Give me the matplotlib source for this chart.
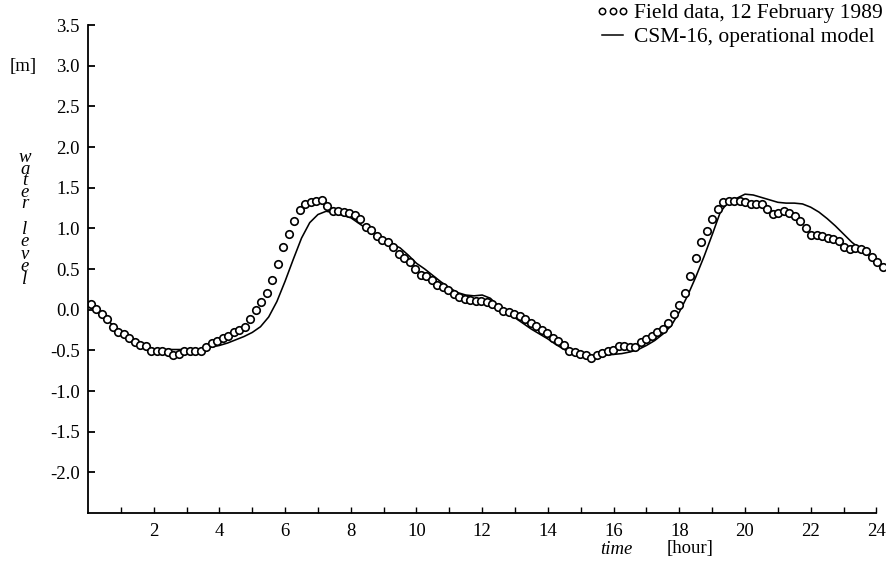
import numpy as np
import matplotlib
matplotlib.use("Agg")
import matplotlib.pyplot as plt
from matplotlib.lines import Line2D

plt.rcParams['font.family'] = ['Liberation Serif', 'DejaVu Serif']
plt.rcParams['axes.unicode_minus'] = False

# ---- data ----
field_values = [
    0.07, 0.01, -0.05, -0.12, -0.21, -0.27, -0.30, -0.35, -0.40, -0.43,
    -0.45, -0.51, -0.51, -0.51, -0.52, -0.56, -0.54, -0.51, -0.51, -0.51,
    -0.51, -0.46, -0.41, -0.38, -0.35, -0.32, -0.28, -0.25, -0.21, -0.12,
    0.00, 0.10, 0.21, 0.36, 0.56, 0.77, 0.93, 1.09, 1.22, 1.30,
    1.32, 1.33, 1.35, 1.27, 1.21, 1.21, 1.20, 1.19, 1.16, 1.11,
    1.02, 0.98, 0.91, 0.86, 0.83, 0.77, 0.69, 0.64, 0.58, 0.50,
    0.43, 0.41, 0.37, 0.30, 0.28, 0.24, 0.19, 0.15, 0.13, 0.12,
    0.11, 0.11,
    0.10, 0.07, 0.03, -0.02, -0.03, -0.05, -0.08, -0.11, -0.16, -0.20,
    -0.25, -0.29, -0.35, -0.39, -0.44, -0.51, -0.52, -0.54, -0.56, -0.59,
    -0.56, -0.53, -0.51, -0.49, -0.45, -0.45, -0.46, -0.46, -0.40, -0.36,
    -0.32, -0.28, -0.24, -0.16, -0.05, 0.06, 0.20, 0.41, 0.64, 0.83,
    0.97, 1.11, 1.24, 1.32, 1.33, 1.34, 1.34, 1.32, 1.30, 1.30,
    1.30, 1.24, 1.18, 1.19, 1.21, 1.19, 1.15, 1.09, 1.00, 0.92,
    0.92, 0.91, 0.88, 0.87, 0.84, 0.77, 0.74, 0.76, 0.74, 0.72,
    0.65, 0.59, 0.53,
]
field_start, field_end = 0.09, 24.2
field_times = np.linspace(field_start, field_end, len(field_values))

model_step = 0.25
model_values = [
    0.09, 0.00, -0.09, -0.19, -0.27, -0.34, -0.40, -0.45, -0.48, -0.49,
    -0.49, -0.49, -0.49, -0.49, -0.48, -0.46, -0.44, -0.41, -0.37, -0.33,
    -0.28, -0.21, -0.09, 0.10, 0.35, 0.62, 0.88, 1.07, 1.17, 1.21,
    1.19, 1.16, 1.13, 1.06, 0.99, 0.93, 0.87, 0.81, 0.76, 0.67,
    0.57, 0.50, 0.42, 0.34, 0.27, 0.21, 0.18, 0.17, 0.18, 0.14,
    0.04, -0.04, -0.10, -0.17, -0.24, -0.30, -0.36, -0.43, -0.49, -0.54,
    -0.56, -0.57, -0.57, -0.56, -0.55, -0.54, -0.52, -0.49, -0.44, -0.38,
    -0.30, -0.20, -0.03, 0.17, 0.40, 0.65, 0.92, 1.20, 1.33, 1.37,
    1.42, 1.41, 1.38, 1.35, 1.32, 1.31, 1.31, 1.30, 1.26, 1.20,
    1.12, 1.03, 0.93, 0.83, 0.75, 0.68, 0.60, 0.52,
]
model_times = np.arange(len(model_values)) * model_step

y_ticks = [-2.0, -1.5, -1.0, -0.5, 0.0, 0.5, 1.0, 1.5, 2.0, 2.5, 3.0, 3.5]
x_minor_ticks = list(range(1, 25))
x_label_ticks = list(range(2, 25, 2))

legend_labels = ["Field data, 12 February 1989", "CSM-16, operational model"]

# ---- figure ----
W, H = 887, 562
FS = 13.5
fig = plt.figure(figsize=(W / 100, H / 100), dpi=100)
x0_px, top_px, bot_px = 88, 25, 513
px_per_h = 32.85
xmax = 24.25
ax = fig.add_axes([x0_px / W, 1 - bot_px / H, xmax * px_per_h / W, (bot_px - top_px) / H])
ax.set_xlim(0, xmax)
ax.set_ylim(-2.5, 3.5)

ax.plot(model_times, model_values, color='black', lw=1.15, solid_capstyle='round')
ax.plot(field_times, field_values, linestyle='none', marker='o', ms=5.4,
        mfc='white', mec='black', mew=1.2)

for s in ['top', 'right']:
    ax.spines[s].set_visible(False)
ax.spines['left'].set_bounds(-2.5, 3.5)
ax.spines['bottom'].set_bounds(0, 24)
ax.spines['left'].set_linewidth(1.3)
ax.spines['bottom'].set_linewidth(1.3)

ax.set_yticks(y_ticks)
ax.set_yticklabels([f"{v:.1f}" for v in y_ticks])
ax.tick_params(axis='y', direction='in', length=5, width=1.3, pad=6, labelsize=FS)

ax.set_xticks(x_minor_ticks)
ax.set_xticklabels([str(t) if t in x_label_ticks else "" for t in x_minor_ticks])
ax.tick_params(axis='x', direction='in', length=4, width=1.0, pad=7, labelsize=FS)

# y-axis label: stacked letters
fig.text(23 / W, 1 - 66 / H, "[m]", fontsize=FS, ha='center', va='center')
fig.text(25 / W, 1 - 149 / H, "w\na\nt\ne\nr", fontsize=FS, style='italic',
         ha='center', va='top', linespacing=0.58, multialignment='center')
fig.text(25 / W, 1 - 221 / H, "l\ne\nv\ne\nl", fontsize=FS, style='italic',
         ha='center', va='top', linespacing=0.65, multialignment='center')

# x label
fig.text(616 / W, 1 - 549 / H, "time", fontsize=FS, style='italic', ha='center', va='center')
fig.text(690 / W, 1 - 549 / H, "[hour]", fontsize=FS, ha='center', va='center')

# legend
handles = [Line2D([], [], linestyle='none', marker='o', ms=4.6, mfc='white', mec='black', mew=1.1),
           Line2D([], [], color='black', lw=1.1)]
leg = ax.legend(handles, legend_labels, loc='upper left', bbox_to_anchor=(596 / W, 1 - 3 / H),
                bbox_transform=fig.transFigure, frameon=False, fontsize=15.5, numpoints=3,
                handlelength=1.55, handletextpad=0.2, labelspacing=0.2, borderaxespad=0,
                borderpad=0)

fig.savefig("out.png", dpi=100)
